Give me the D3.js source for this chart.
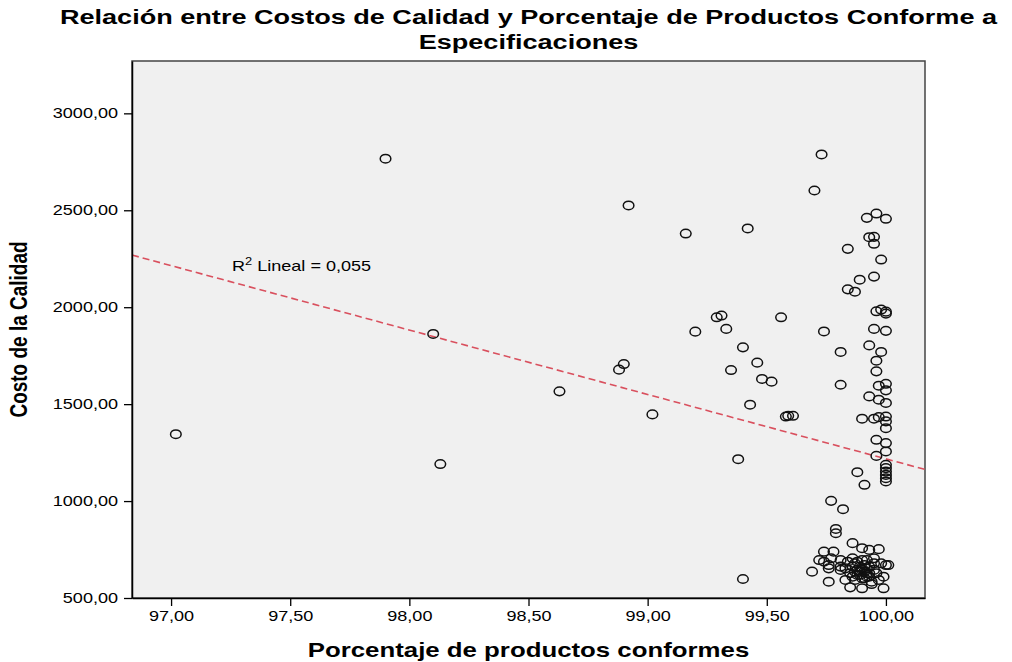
<!DOCTYPE html>
<html lang="es">
<head>
    <meta charset="UTF-8">
    <title>Costos de Calidad vs Porcentaje Conforme</title>
    <script src="https://d3js.org/d3.v7.min.js"></script>
    <style>
        body { margin: 0; background: #fff; }
        svg text { font-family: "Liberation Sans", Arial, sans-serif; fill: #000; }
    </style>
</head>
<body>
    <div id="chart"></div>
    <script>
        // Porcentaje de productos conformes (x) y Costo de la Calidad (y)
        const pctConformes = [
            97.02, 97.90, 98.10, 98.13, 98.63, 98.88, 98.90, 98.92, 99.02, 99.16,
            99.20, 99.29, 99.31, 99.33, 99.35, 99.40, 99.46, 99.48, 99.52, 99.43,
            99.56, 99.58, 99.59, 99.61, 99.38, 99.42, 99.40,
            99.73, 99.70, 99.92, 99.96, 100.00, 99.93, 99.95, 99.95, 99.84, 99.98,
            99.89, 99.95, 99.84, 99.87, 99.96, 99.98, 100.00, 100.00, 99.74, 99.95,
            100.00, 99.81, 99.93, 99.98, 99.96, 99.96, 99.81, 99.97, 100.00, 100.00,
            99.93, 99.97, 100.00, 99.90, 99.95, 99.97, 100.00, 100.00, 100.00, 99.96,
            100.00, 100.00, 99.96, 100.00, 100.00, 100.00, 100.00, 100.00, 100.00,
            99.88, 99.91, 99.77, 99.82, 99.79, 99.79,
            99.86, 99.74, 99.78, 99.90, 99.93, 99.97, 99.72, 99.74, 99.77, 99.81,
            99.86, 99.88, 99.92, 99.95, 99.98, 100.00, 99.83, 99.86, 99.88, 99.90,
            99.91, 99.93, 99.95, 99.85, 99.88, 99.92, 99.96, 99.69, 99.76, 99.76,
            99.81, 99.81, 99.76, 99.83, 99.87, 99.90, 99.94, 99.97, 99.99, 99.85,
            99.90, 99.94, 99.99, 100.01,
            99.89, 99.91, 99.87, 99.93, 99.89, 99.86, 99.95, 99.90, 99.84, 99.92,
            99.89, 99.91, 99.93, 99.87, 99.90, 99.92
        ];
        const costoCalidad = [
            1345, 2766, 1862, 1191, 1566, 1678, 1707, 2525, 1447, 2380,
            1874, 1948, 1957, 1888, 1676, 1793, 1714, 1630, 1616, 1497,
            1948, 1436, 1440, 1440, 1216, 2406, 598,
            2788, 2602, 2461, 2483, 2456, 2361, 2363, 2327, 2301, 2246,
            2142, 2158, 2092, 2080, 1979, 1988, 1967, 1977, 1875, 1888,
            1878, 1769, 1803, 1769, 1724, 1669, 1600, 1595, 1605, 1571,
            1540, 1523, 1506, 1425, 1425, 1433, 1436, 1411, 1376, 1316,
            1299, 1256, 1233, 1187, 1170, 1152, 1135, 1118, 1101,
            1149, 1084, 1001, 958, 856, 834,
            783, 739, 739, 757, 748, 752, 696, 687, 705, 696,
            705, 687, 696, 679, 679, 670, 653, 662, 645, 653,
            636, 662, 645, 628, 619, 628, 628, 636, 653, 670,
            645, 662, 584, 593, 593, 602, 584, 593, 610, 555,
            550, 572, 550, 670,
            662, 670, 679, 610, 636, 610, 705, 696, 687, 653,
            619, 602, 628, 636, 645, 610
        ];

        const xTicks = [97, 97.5, 98, 98.5, 99, 99.5, 100];
        const yTicks = [500, 1000, 1500, 2000, 2500, 3000];
        const xDomain = [96.836, 100.164];
        const yDomain = [500, 3270];

        // Recta de ajuste lineal
        const fitIntercept = 34447.6;
        const fitSlope = -332.3;
        const rSquared = "0,055";

        const width = 1012;
        const height = 662;
        const margin = {top: 61, right: 87, bottom: 64, left: 132};
        const sx = 1.29; // the source image is stretched horizontally

        const svg = d3.select("#chart")
            .append("svg")
            .attr("width", width)
            .attr("height", height);

        const xScale = d3.scaleLinear()
            .domain(xDomain)
            .range([margin.left, width - margin.right]);
        const yScale = d3.scaleLinear()
            .domain(yDomain)
            .range([height - margin.bottom, margin.top]);

        // helper: text widened like the original picture
        function wideText(x, y, str, size, weight, anchor, rotate) {
            const g = svg.append("g")
                .attr("transform", `translate(${x},${y}) scale(${sx},1)` + (rotate ? ` rotate(${rotate})` : ""));
            return g.append("text")
                .attr("text-anchor", anchor)
                .attr("font-size", size + "px")
                .attr("font-weight", weight)
                .text(str);
        }

        // Plot background
        svg.append("rect")
            .attr("x", margin.left)
            .attr("y", margin.top)
            .attr("width", width - margin.right - margin.left)
            .attr("height", height - margin.bottom - margin.top)
            .attr("fill", "#f0f0f0")
            .attr("stroke", "#444")
            .attr("stroke-width", 1.5);

        // Regression line
        const fitY = x => fitIntercept + fitSlope * x;
        svg.append("line")
            .attr("x1", xScale(xDomain[0]))
            .attr("y1", yScale(fitY(xDomain[0])))
            .attr("x2", xScale(xDomain[1]))
            .attr("y2", yScale(fitY(xDomain[1])))
            .attr("stroke", "#d9505e")
            .attr("stroke-width", 1.6)
            .attr("stroke-dasharray", "7,4");

        // Points
        const points = pctConformes.map((x, i) => ({x: x, y: costoCalidad[i]}));
        svg.selectAll("ellipse.pt")
            .data(points)
            .enter()
            .append("ellipse")
            .attr("class", "pt")
            .attr("cx", d => xScale(d.x))
            .attr("cy", d => yScale(d.y))
            .attr("rx", 5.3)
            .attr("ry", 4.3)
            .attr("fill", "none")
            .attr("stroke", "#111")
            .attr("stroke-width", 1.5);

        const fmt = d => d.toFixed(2).replace(".", ",");

        // x axis
        const xAxis = d3.axisBottom(xScale)
            .tickValues(xTicks)
            .tickFormat(fmt)
            .tickSize(8)
            .tickSizeOuter(0)
            .tickPadding(5);
        const gx = svg.append("g")
            .attr("transform", `translate(0, ${height - margin.bottom})`)
            .call(xAxis);
        gx.selectAll("text")
            .attr("font-size", "14px")
            .attr("transform", `scale(${sx},1)`)
            .attr("x", 0);

        // y axis
        const yAxis = d3.axisLeft(yScale)
            .tickValues(yTicks)
            .tickFormat(fmt)
            .tickSize(8)
            .tickSizeOuter(0)
            .tickPadding(6);
        const gy = svg.append("g")
            .attr("transform", `translate(${margin.left}, 0)`)
            .call(yAxis);
        gy.selectAll("text")
            .attr("font-size", "14px")
            .attr("transform", `scale(${sx},1)`)
            .attr("x", -14 / sx);

        svg.selectAll(".domain").attr("stroke", "#000").attr("stroke-width", 1.5);
        svg.selectAll(".tick line").attr("stroke", "#000").attr("stroke-width", 1.3);
        svg.selectAll(".tick text").attr("fill", "#000").attr("font-family", null);

        // R squared label
        const r2 = wideText(232, 271, "R", 14, "normal", "start");
        r2.append("tspan").attr("font-size", "10px").attr("dy", -6).text("2");
        r2.append("tspan").attr("dy", 6).text(" Lineal = " + rSquared);

        // Titles
        const midX = (margin.left + width - margin.right) / 2;
        const midY = (margin.top + height - margin.bottom) / 2;
        wideText(midX, 24, "Relación entre Costos de Calidad y Porcentaje de Productos Conforme a", 21, "bold", "middle");
        wideText(midX, 49, "Especificaciones", 21, "bold", "middle");
        wideText(midX, 657, "Porcentaje de productos conformes", 20, "bold", "middle");
        wideText(27, midY, "Costo de la Calidad", 19, "bold", "middle", -90);
    </script>
</body>
</html>
